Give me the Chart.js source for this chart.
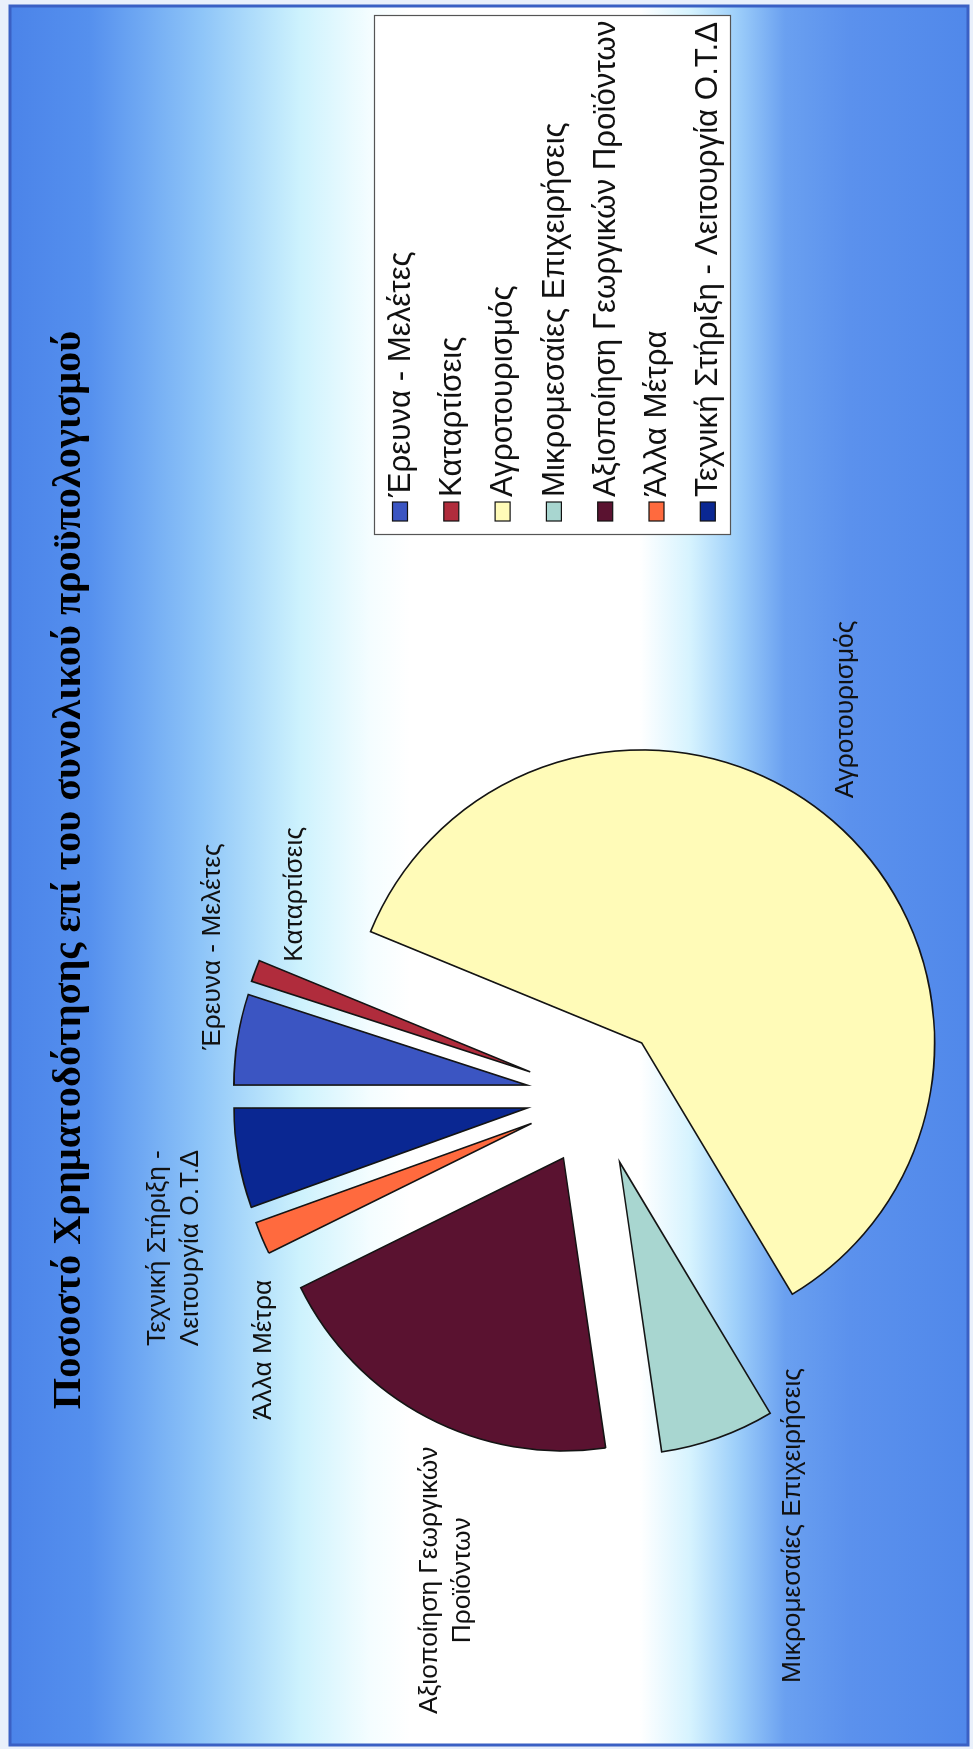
<!DOCTYPE html>
<html>
<head>
<meta charset="utf-8">
<script src="https://cdn.jsdelivr.net/npm/chart.js@4.4.1/dist/chart.umd.min.js"></script>
<style>
  html, body { margin: 0; padding: 0; width: 973px; height: 1749px; overflow: hidden; background: #eef3fb; }
  /* the chart is laid out landscape and turned a quarter turn counter-clockwise */
  #stage { position: absolute; left: 0; top: 0; width: 1749px; height: 973px;
           transform-origin: 0 0; transform: translate(0, 1749px) rotate(-90deg); }
  canvas { display: block; }
</style>
</head>
<body>
<div id="stage"><canvas id="chart" width="1749" height="973"></canvas></div>
<script>
// ---- data ----
const titleText = 'Ποσοστό Χρηματοδότησης επί του συνολικού προϋπολογισμού';
const categories = [
  'Έρευνα - Μελέτες',
  'Καταρτίσεις',
  'Αγροτουρισμός',
  'Μικρομεσαίες Επιχειρήσεις',
  'Αξιοποίηση Γεωργικών Προϊόντων',
  'Άλλα Μέτρα',
  'Τεχνική Στήριξη - Λειτουργία Ο.Τ.Δ'
];
const sliceLabelLines = [
  ['Έρευνα - Μελέτες'],
  ['Καταρτίσεις'],
  ['Αγροτουρισμός'],
  ['Μικρομεσαίες Επιχειρήσεις'],
  ['Αξιοποίηση Γεωργικών', 'Προϊόντων'],
  ['Άλλα Μέτρα'],
  ['Τεχνική Στήριξη -', 'Λειτουργία Ο.Τ.Δ']
];
const shares = [5.0, 1.2, 60.2, 6.3, 20.0, 1.8, 5.5];   // % of total budget

// ---- styling & layout ----
const sliceColors = ['#3b55c2', '#b02c3c', '#fffbb8', '#a8d6d0', '#5a1230', '#ff6a3e', '#0a2792'];
const W = 1749, H = 973;
const EXPLODE = 70;          // distance every slice is pulled out from the centre
const PIE_RADIUS = 293;
const pieCentre = { x: 653, y: 596 };
const labelGap = 15;
// small hand placement of each slice label, relative to its default outside spot
const labelNudge = [[-13, 6], [4, 69], [11, -7], [84, 64], [-16, 41], [-36, 31], [11, -17]];
const sansFamily = '"Liberation Sans", Arial, sans-serif';
const serifFamily = '"Liberation Serif", "Times New Roman", serif';

const bgStops = [
  [0, '#4a82e8'], [90, '#5590ee'], [200, '#8dc4f8'], [300, '#cdf2fd'], [370, '#f4fdff'],
  [410, '#ffffff'], [640, '#ffffff'], [690, '#d6f3fe'], [735, '#9fd0fa'], [785, '#6aa0f0'],
  [850, '#5b91ed'], [973, '#5088ea']
];
const frame = { left: 4, top: 10, right: 1743, bottom: 968 };
const titleBox = { cx: 879, baseline: 80, width: 1079 };
const legendBox = { left: 1214, top: 374, right: 1733, bottom: 730, firstRow: 400, rowStep: 51.3,
                    keyX: 1228, keyW: 19, keyH: 15, textX: 1252, fitText: 475 };
const labelFitWidth = 315;   // width of 'Μικρομεσαίες Επιχειρήσεις'
const labelLineHeight = 33;

function fitSize(ctx, text, target, weight, family) {
  ctx.font = weight + ' 100px ' + family;
  return 100 * target / ctx.measureText(text).width;
}

// exploded slices: every arc is shifted along its own bisector
const baseArcDraw = Chart.ArcElement.prototype.draw;
Chart.ArcElement.prototype.draw = function (ctx) {
  const mid = (this.startAngle + this.endAngle) / 2;
  ctx.save();
  ctx.translate(Math.cos(mid) * EXPLODE, Math.sin(mid) * EXPLODE);
  baseArcDraw.call(this, ctx);
  ctx.restore();
};

const backgroundPlugin = {
  id: 'backgroundPlugin',
  beforeDraw(chart) {
    const ctx = chart.ctx;
    ctx.save();
    ctx.fillStyle = '#e9f0fb';
    ctx.fillRect(0, 0, W, H);
    const g = ctx.createLinearGradient(0, 0, 0, H);
    bgStops.forEach(([y, c]) => g.addColorStop(y / H, c));
    ctx.fillStyle = g;
    ctx.fillRect(frame.left, frame.top, frame.right - frame.left, frame.bottom - frame.top);
    ctx.strokeStyle = '#3a60c4';
    ctx.lineWidth = 3;
    ctx.strokeRect(frame.left, frame.top, frame.right - frame.left, frame.bottom - frame.top);
    ctx.restore();
  }
};

const sliceLabelPlugin = {
  id: 'sliceLabelPlugin',
  afterDatasetsDraw(chart) {
    const ctx = chart.ctx;
    const arcs = chart.getDatasetMeta(0).data;
    const size = fitSize(ctx, sliceLabelLines[3][0], labelFitWidth, 'normal', sansFamily);
    ctx.save();
    ctx.font = 'normal ' + size.toFixed(2) + 'px ' + sansFamily;
    ctx.fillStyle = '#111';
    ctx.textAlign = 'center';
    ctx.textBaseline = 'middle';
    arcs.forEach((arc, i) => {
      const mid = (arc.startAngle + arc.endAngle) / 2;
      const ux = Math.cos(mid), uy = Math.sin(mid);
      const dist = EXPLODE + arc.outerRadius + labelGap;
      const ax = arc.x + ux * dist, ay = arc.y + uy * dist;
      const lines = sliceLabelLines[i];
      const w = Math.max(...lines.map(t => ctx.measureText(t).width));
      const h = lines.length * labelLineHeight;
      const cx = ax + Math.sign(ux) * w / 2 + labelNudge[i][0];
      const cy = ay + uy * h / 2 + labelNudge[i][1];
      lines.forEach((t, k) => {
        ctx.fillText(t, cx, cy + (k - (lines.length - 1) / 2) * labelLineHeight);
      });
    });
    ctx.restore();
  }
};

const titleLegendPlugin = {
  id: 'titleLegendPlugin',
  afterDraw(chart) {
    const ctx = chart.ctx;
    ctx.save();
    // title
    const tSize = fitSize(ctx, titleText, titleBox.width, 'bold', serifFamily);
    ctx.font = 'bold ' + tSize.toFixed(2) + 'px ' + serifFamily;
    ctx.fillStyle = '#000';
    ctx.textAlign = 'center';
    ctx.textBaseline = 'alphabetic';
    ctx.fillText(titleText, titleBox.cx, titleBox.baseline);

    // legend
    const L = legendBox;
    ctx.fillStyle = '#ffffff';
    ctx.fillRect(L.left, L.top, L.right - L.left, L.bottom - L.top);
    ctx.strokeStyle = '#555';
    ctx.lineWidth = 1.2;
    ctx.strokeRect(L.left + 0.5, L.top + 0.5, L.right - L.left, L.bottom - L.top);
    const lSize = fitSize(ctx, categories[6], L.fitText, 'normal', sansFamily);
    ctx.font = 'normal ' + lSize.toFixed(2) + 'px ' + sansFamily;
    ctx.textAlign = 'left';
    ctx.textBaseline = 'middle';
    const ds = chart.data.datasets[0];
    chart.data.labels.forEach((label, i) => {
      const y = L.firstRow + i * L.rowStep;
      ctx.fillStyle = ds.backgroundColor[i];
      ctx.fillRect(L.keyX, y - L.keyH / 2, L.keyW, L.keyH);
      ctx.strokeStyle = '#111';
      ctx.lineWidth = 1.2;
      ctx.strokeRect(L.keyX, y - L.keyH / 2, L.keyW, L.keyH);
      ctx.fillStyle = '#111';
      ctx.fillText(label, L.textX, y + 1);
    });
    ctx.restore();
  }
};

new Chart(document.getElementById('chart'), {
  type: 'pie',
  data: {
    labels: categories,
    datasets: [{
      data: shares,
      backgroundColor: sliceColors,
      borderColor: '#141414',
      borderWidth: 1.6,
      borderJoinStyle: 'miter',
      clip: false
    }]
  },
  options: {
    responsive: false,
    animation: false,
    devicePixelRatio: 1,
    radius: PIE_RADIUS,
    layout: {
      padding: { left: 0, right: W - 2 * pieCentre.x, top: 2 * pieCentre.y - H, bottom: 0 }
    },
    plugins: {
      legend: { display: false },
      title: { display: false },
      tooltip: { enabled: false }
    }
  },
  plugins: [backgroundPlugin, sliceLabelPlugin, titleLegendPlugin]
});
</script>
</body>
</html>
